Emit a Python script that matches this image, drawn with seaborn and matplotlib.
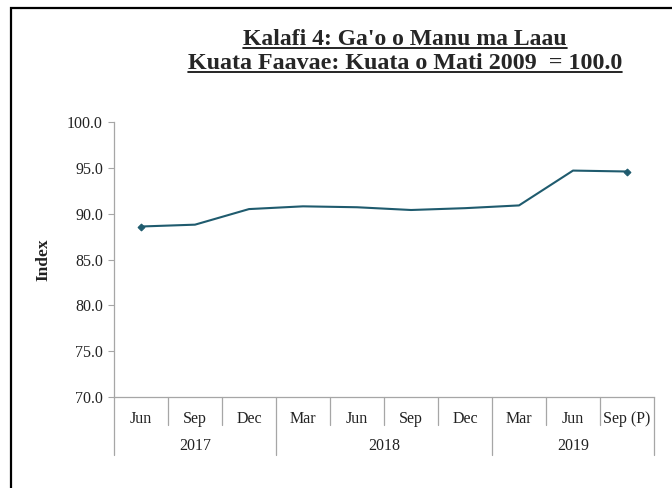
import numpy as np
import pandas as pd
import matplotlib
matplotlib.use('Agg')
import matplotlib.pyplot as plt
import seaborn as sns
from matplotlib.lines import Line2D
from matplotlib.patches import Rectangle
import matplotlib.transforms as mtransforms

# data
periods = ['Jun 2017', 'Sep 2017', 'Dec 2017', 'Mar 2018', 'Jun 2018',
           'Sep 2018', 'Dec 2018', 'Mar 2019', 'Jun 2019', 'Sep 2019']
values = [88.6, 88.8, 90.5, 90.8, 90.7, 90.4, 90.6, 90.9, 94.7, 94.6]
month_labels = ['Jun', 'Sep', 'Dec', 'Mar', 'Jun', 'Sep', 'Dec', 'Mar', 'Jun', 'Sep (P)']
year_labels = ['2017', '2018', '2019']
year_counts = [3, 4, 3]
y_ticks = [70, 75, 80, 85, 90, 95, 100]

title_1 = "Kalafi 4: Ga'o o Manu ma Laau"
title_2 = "Kuata Faavae: Kuata o Mati 2009  = 100.0"

sns.set_style('white')
plt.rcParams['font.family'] = ['Liberation Serif', 'DejaVu Serif']

df = pd.DataFrame({'period': periods, 'index': values})

W, H = 672, 488
fig = plt.figure(figsize=(W / 100, H / 100), dpi=100)
ax = fig.add_axes([114 / W, 1 - 397 / H, 540 / W, 275 / H])

line_color = '#1f5b6e'
axis_color = '#a6a6a6'
text_color = '#222222'

sns.lineplot(data=df, x='period', y='index', ax=ax, color=line_color, lw=1.5,
             marker='D', markersize=3.5, markevery=[0, len(values) - 1],
             markeredgecolor=line_color, sort=False)

ax.set_xlim(-0.5, len(periods) - 0.5)
ax.set_ylim(70, 100)
ax.set_yticks(y_ticks)
ax.set_yticklabels([f'{v:.1f}' for v in y_ticks], fontsize=11.5, color=text_color)
ax.tick_params(axis='y', left=True, length=4, width=0.8, color=axis_color, pad=4)

ax.set_xticks(range(len(periods)))
ax.set_xticklabels(month_labels, fontsize=11.5, color=text_color)
ax.tick_params(axis='x', length=0, pad=10)
ax.set_xlabel('')
ax.set_ylabel('Index', fontsize=12.5, fontweight='bold', labelpad=11, color=text_color)

for s in ['top', 'right']:
    ax.spines[s].set_visible(False)
for s in ['left', 'bottom']:
    ax.spines[s].set_color(axis_color)
    ax.spines[s].set_linewidth(0.9)

# category separators below the axis
trans = mtransforms.blended_transform_factory(ax.transData, ax.transAxes)
bounds = np.cumsum([0] + year_counts) - 0.5
for i in range(len(periods) + 1):
    xb = i - 0.5
    ybot = -0.21 if xb in bounds else -0.10
    ax.add_line(Line2D([xb, xb], [0, ybot], transform=trans, color=axis_color,
                       lw=0.9, clip_on=False))

start = 0
for yl, n in zip(year_labels, year_counts):
    ax.text(start + (n - 1) / 2, -0.178, yl, transform=trans, ha='center',
            va='center', fontsize=11.5, color=text_color)
    start += n

# titles with underline
t1 = fig.text(405 / W, 1 - 45 / H, title_1, ha='center', va='baseline',
              fontsize=17, fontweight='bold')
t2 = fig.text(405 / W, 1 - 69 / H, title_2, ha='center', va='baseline',
              fontsize=17.3, fontweight='bold')
fig.canvas.draw()
r = fig.canvas.get_renderer()
for t, yb in [(t1, 45), (t2, 69)]:
    bb = t.get_window_extent(r)
    yu = 1 - (yb + 3) / H
    fig.add_artist(Line2D([bb.x0 / W, bb.x1 / W], [yu, yu], color='black', lw=1.2))

# outer frame
fig.add_artist(Rectangle((10.5 / W, -0.5), 2, 1.5 - 8 / H, fill=False,
                         edgecolor='black', lw=1.6, transform=fig.transFigure))

fig.savefig('out.png', dpi=100)
